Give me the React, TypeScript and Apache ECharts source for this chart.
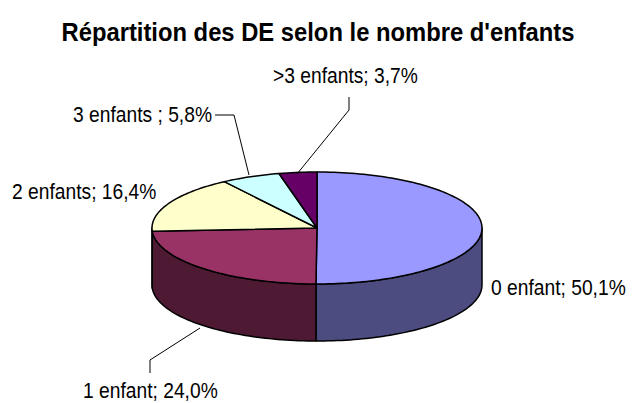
import React, { useEffect, useRef } from 'react';
import * as echarts from 'echarts';

const titleText = "Répartition des DE selon le nombre d'enfants";
const categories = ['0 enfant', '1 enfant', '2 enfants', '3 enfants ', '>3 enfants'];
const shares = [50.1, 24.0, 16.4, 5.8, 3.7];
const topColors = ['#9999FF', '#993366', '#FFFFCC', '#CCFFFF', '#660066'];
const sideColors = ['#4C4C80', '#4D1933', '#808066', '#668080', '#330033'];

// layout (not data)
const PIE = { cx: 317, cy: 228, rx: 165, ry: 56, depth: 57 };
const LABEL_FONT = 23;
const LABEL_SCALE_X = 0.837;
const labelLayout: { x: number; y: number; leader: number[][] | null }[] = [
  { x: 491, y: 295, leader: null },
  { x: 83, y: 398, leader: [[150, 373], [150, 360], [200, 328]] },
  { x: 12, y: 199, leader: null },
  { x: 73, y: 122, leader: [[215, 115], [234, 115], [249, 175]] },
  { x: 273, y: 83, leader: [[349, 97], [349, 110], [297, 174]] },
];

const fmtPct = (v: number) => v.toFixed(1).replace('.', ',') + '%';

export default function App() {
  const ref = useRef<HTMLDivElement>(null);
  useEffect(() => {
    const chart = echarts.init(ref.current!, null, { renderer: 'svg' });
    const total = shares.reduce((a, b) => a + b, 0);
    const starts: number[] = [];
    let acc = 0;
    shares.forEach((v) => {
      starts.push(acc);
      acc += v;
    });
    const pt = (deg: number, dy = 0) => {
      const r = (deg * Math.PI) / 180;
      return [PIE.cx + PIE.rx * Math.sin(r), PIE.cy - PIE.ry * Math.cos(r) + dy];
    };
    const arc = (a0: number, a1: number, dy = 0) => {
      const n = Math.max(2, Math.ceil(Math.abs(a1 - a0) / 1.5));
      const pts: number[][] = [];
      for (let k = 0; k <= n; k++) pts.push(pt(a0 + ((a1 - a0) * k) / n, dy));
      return pts;
    };

    const renderItem = (params: any, api: any) => {
      const i = params.dataIndex;
      const v = api.value(0) as number;
      const s = api.value(1) as number;
      const a0 = (s / total) * 360;
      const a1 = ((s + v) / total) * 360;
      const children: any[] = [];
      const s0 = Math.max(a0, 90);
      const s1 = Math.min(a1, 270);
      if (s1 > s0) {
        children.push({
          type: 'polygon',
          shape: { points: [...arc(s0, s1), ...arc(s1, s0, PIE.depth)] },
          style: { fill: sideColors[i], stroke: '#000', lineWidth: 1.5, lineJoin: 'round' },
        });
      }
      children.push({
        type: 'polygon',
        shape: { points: [[PIE.cx, PIE.cy], ...arc(a0, a1)] },
        style: { fill: topColors[i], stroke: '#000', lineWidth: 1.5, lineJoin: 'round' },
      });
      const lay = labelLayout[i];
      if (lay.leader) {
        children.push({
          type: 'polyline',
          shape: { points: lay.leader },
          style: { stroke: '#000', lineWidth: 1, fill: null },
        });
      }
      children.push({
        type: 'text',
        x: lay.x,
        y: lay.y - LABEL_FONT * 0.36,
        scaleX: LABEL_SCALE_X,
        style: {
          text: `${categories[i]}; ${fmtPct(v)}`,
          font: `${LABEL_FONT}px "Liberation Sans", Arial, sans-serif`,
          fill: '#000',
          align: 'left',
          verticalAlign: 'middle',
        },
      });
      return { type: 'group', children };
    };

    chart.setOption({
      animation: false,
      backgroundColor: '#fff',
      graphic: [
        {
          type: 'text',
          x: 318,
          y: 41 - 26 * 0.36,
          scaleX: 0.915,
          style: {
            text: titleText,
            font: 'bold 26px "Liberation Sans", Arial, sans-serif',
            fill: '#000',
            align: 'center',
            verticalAlign: 'middle',
          },
        },
      ],
      series: [
        {
          type: 'custom',
          coordinateSystem: 'none',
          renderItem,
          data: shares.map((v, i) => ({ name: categories[i], value: [v, starts[i]] })),
        },
      ],
    });
    return () => chart.dispose();
  }, []);
  return (
    <div
      ref={ref}
      style={{ position: 'fixed', left: 0, top: 0, width: 632, height: 403, background: '#fff' }}
    />
  );
}
